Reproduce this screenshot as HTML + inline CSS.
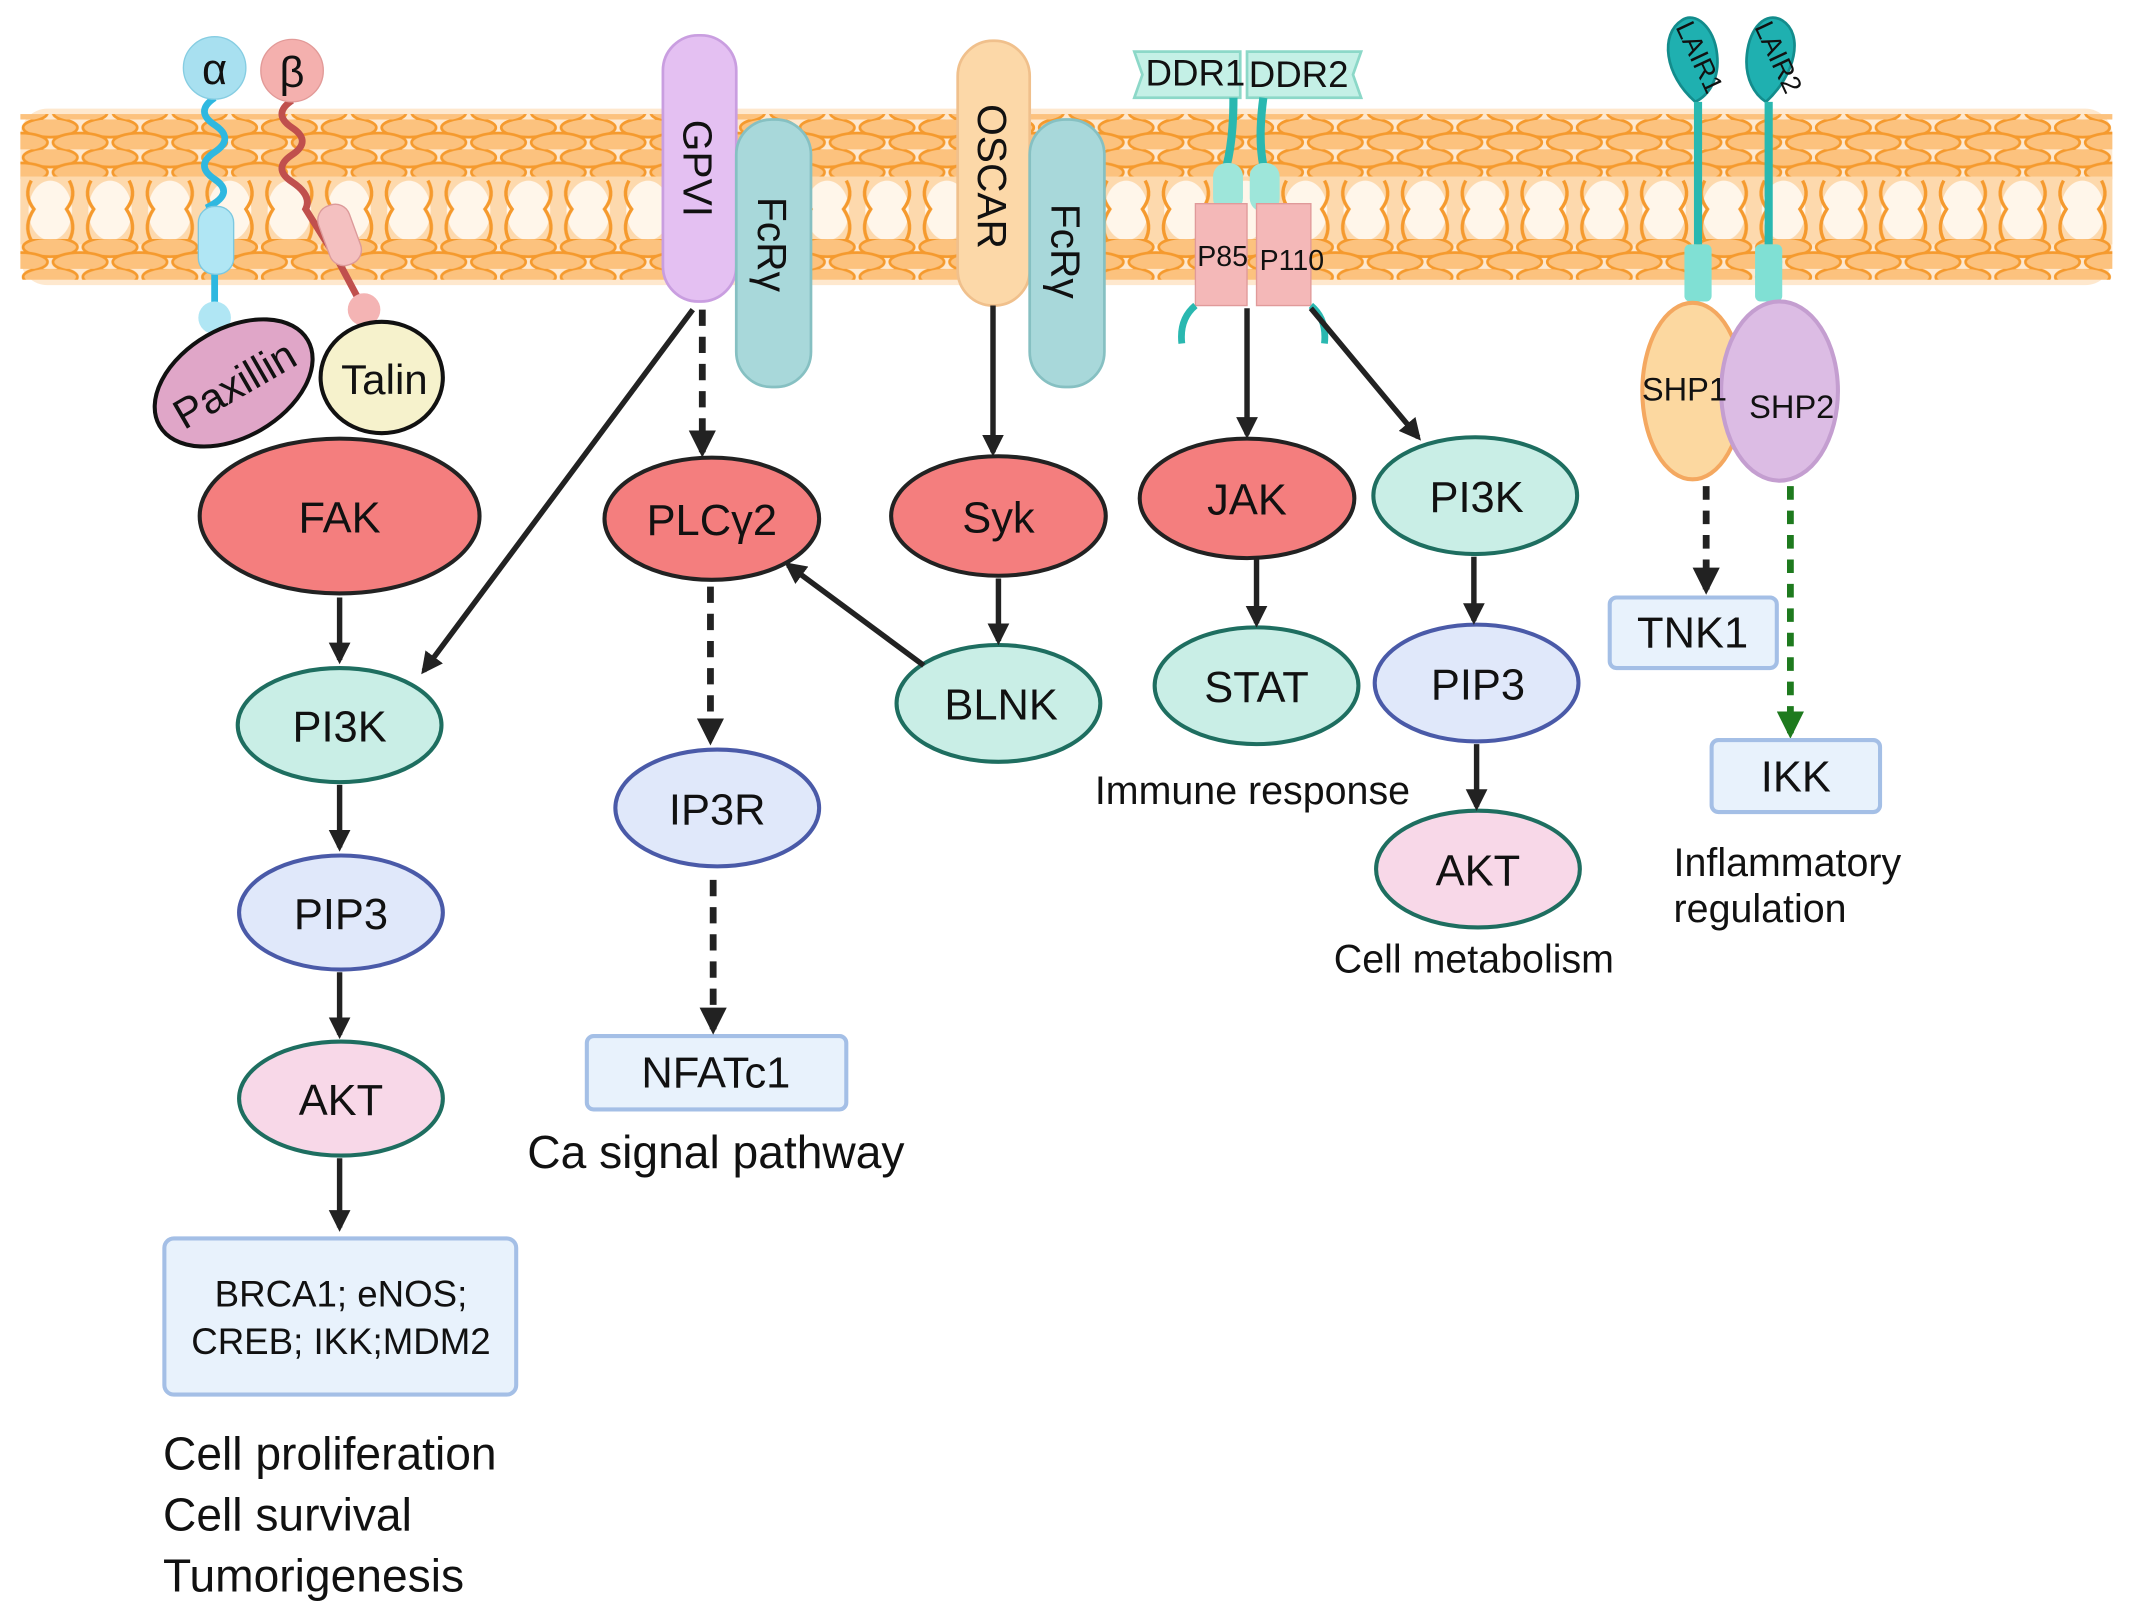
<!DOCTYPE html>
<html><head><meta charset="utf-8"><style>
html,body{margin:0;padding:0;background:#fff;}
svg{display:block;}
text{font-family:"Liberation Sans",sans-serif;fill:#111;}
</style></head><body>
<svg width="2130" height="1620" viewBox="0 0 1568 1193" preserveAspectRatio="none" xmlns="http://www.w3.org/2000/svg">
<defs>
<pattern id="heads" x="15" y="0" width="44" height="22" patternUnits="userSpaceOnUse">
<ellipse cx="22" cy="6" rx="20" ry="7" fill="#fcc27e" stroke="#f59a2e" stroke-width="2"/>
<ellipse cx="0" cy="17" rx="20" ry="7" fill="#fcc27e" stroke="#f59a2e" stroke-width="2"/>
<ellipse cx="44" cy="17" rx="20" ry="7" fill="#fcc27e" stroke="#f59a2e" stroke-width="2"/>
</pattern>
<pattern id="tails" x="15" y="130" width="44" height="50" patternUnits="userSpaceOnUse">
<rect width="44" height="50" fill="#fdd9ad"/>
<ellipse cx="22" cy="25" rx="16" ry="22" fill="#fff6ea"/>
<path d="M8 3 Q2 14 10 24 Q2 36 8 47 M36 3 Q42 14 34 24 Q42 36 36 47" fill="none" stroke="#f59a2e" stroke-width="2.5"/>
</pattern>
<marker id="ah" viewBox="0 0 10 10" refX="8" refY="5" markerWidth="4" markerHeight="4" orient="auto"><path d="M0 0 L10 5 L0 10z" fill="#222"/></marker>
<marker id="ahg" viewBox="0 0 10 10" refX="8" refY="5" markerWidth="4" markerHeight="4" orient="auto"><path d="M0 0 L10 5 L0 10z" fill="#1e7a1e"/></marker>
</defs>

<!-- membrane -->
<rect x="15" y="80" width="1540" height="130" rx="20" fill="#fdd9ad" opacity="0.6"/>
<rect x="15" y="84" width="1540" height="50" fill="url(#heads)"/>
<rect x="15" y="130" width="1540" height="50" fill="url(#tails)"/>
<rect x="15" y="176" width="1540" height="30" fill="url(#heads)"/>

<!-- integrins -->
<path d="M158 72 q-15 10 0 20 q15 10 0 20 q-15 10 0 20 q15 10 -4 20 l4 10 L158 230" fill="none" stroke="#2fb8e0" stroke-width="5"/>
<path d="M215 74 q-15 10 0 20 q15 10 0 20 q-15 10 0 20 q15 10 10 20 l25 40 L268 228" fill="none" stroke="#c0504d" stroke-width="5"/>
<rect x="146" y="152" width="26" height="50" rx="12" fill="#b0e6f4" stroke="#7cc8e0"/>
<rect x="238" y="150" width="24" height="46" rx="11" fill="#f4c0c0" stroke="#dc9a9a" transform="rotate(-20 250 173)"/>
<circle cx="158" cy="234" r="12" fill="#b0e6f4"/>
<circle cx="268" cy="228" r="12" fill="#f4b4b4"/>
<circle cx="158" cy="50" r="23" fill="#a8e0f0" stroke="#86cde2"/>
<circle cx="215" cy="52" r="23" fill="#f4b0ae" stroke="#e29a98"/>
<text x="158" y="62" font-size="32" text-anchor="middle">α</text>
<text x="215" y="64" font-size="32" text-anchor="middle">β</text>

<ellipse cx="172" cy="282" rx="63" ry="40" fill="#e0a6c8" stroke="#111" stroke-width="3" transform="rotate(-30 172 282)"/>
<text x="172" y="294" font-size="31" text-anchor="middle" transform="rotate(-30 172 282)">Paxillin</text>
<ellipse cx="281" cy="278" rx="45" ry="41" fill="#f6f2cc" stroke="#111" stroke-width="3"/>
<text x="283" y="290" font-size="31" text-anchor="middle">Talin</text>

<!-- left column -->
<ellipse cx="250" cy="380" rx="103" ry="57" fill="#f47e7e" stroke="#222" stroke-width="3"/>
<text x="250" y="392" font-size="32" text-anchor="middle">FAK</text>
<ellipse cx="250" cy="534" rx="75" ry="42" fill="#c9eee6" stroke="#1e6e60" stroke-width="3"/>
<text x="250" y="546" font-size="32" text-anchor="middle">PI3K</text>
<ellipse cx="251" cy="672" rx="75" ry="42" fill="#e0e8fa" stroke="#4a5aa8" stroke-width="3"/>
<text x="251" y="684" font-size="32" text-anchor="middle">PIP3</text>
<ellipse cx="251" cy="809" rx="75" ry="42" fill="#f8d8e8" stroke="#1e6e60" stroke-width="3"/>
<text x="251" y="821" font-size="32" text-anchor="middle">AKT</text>
<rect x="121" y="912" width="259" height="115" rx="7" fill="#e8f2fc" stroke="#a4bfe6" stroke-width="3"/>
<text x="251" y="962" font-size="27" text-anchor="middle">BRCA1; eNOS;</text>
<text x="251" y="997" font-size="27" text-anchor="middle">CREB; IKK;MDM2</text>
<text x="120" y="1082" font-size="34">Cell proliferation</text>
<text x="120" y="1127" font-size="34">Cell survival</text>
<text x="120" y="1172" font-size="34">Tumorigenesis</text>
<g stroke="#222" stroke-width="4" marker-end="url(#ah)">
<line x1="250" y1="440" x2="250" y2="486"/>
<line x1="250" y1="578" x2="250" y2="624"/>
<line x1="250" y1="716" x2="250" y2="762"/>
<line x1="250" y1="853" x2="250" y2="904"/>
<line x1="510" y1="228" x2="312" y2="494"/>
</g>

<!-- GPVI -->
<rect x="488" y="26" width="54" height="196" rx="26" fill="#e4c0f2" stroke="#c99ee0" stroke-width="2"/>
<text transform="translate(503 124) rotate(90)" font-size="30" text-anchor="middle">GPVI</text>
<rect x="542" y="88" width="55" height="197" rx="26" fill="#a8d8da" stroke="#86c0c2" stroke-width="2"/>
<text transform="translate(558 180) rotate(90)" font-size="30" text-anchor="middle">FcRγ</text>
<ellipse cx="524" cy="382" rx="79" ry="45" fill="#f47e7e" stroke="#222" stroke-width="3"/>
<text x="524" y="394" font-size="32" text-anchor="middle">PLCγ2</text>
<ellipse cx="528" cy="595" rx="75" ry="43" fill="#e0e8fa" stroke="#4a5aa8" stroke-width="3"/>
<text x="528" y="607" font-size="32" text-anchor="middle">IP3R</text>
<rect x="432" y="763" width="191" height="54" rx="5" fill="#e8f2fc" stroke="#a4bfe6" stroke-width="3"/>
<text x="527" y="801" font-size="32" text-anchor="middle">NFATc1</text>
<text x="527" y="860" font-size="34" text-anchor="middle">Ca signal pathway</text>
<g stroke="#222" stroke-width="5" stroke-dasharray="12 8" marker-end="url(#ah)">
<line x1="517" y1="228" x2="517" y2="333"/>
<line x1="523" y1="432" x2="523" y2="545"/>
<line x1="525" y1="648" x2="525" y2="758"/>
</g>

<!-- OSCAR -->
<rect x="705" y="30" width="53" height="195" rx="26" fill="#fcd8a8" stroke="#f0c08c" stroke-width="2"/>
<text transform="translate(720 130) rotate(90)" font-size="30" text-anchor="middle">OSCAR</text>
<rect x="758" y="88" width="55" height="197" rx="26" fill="#a8d8da" stroke="#86c0c2" stroke-width="2"/>
<text transform="translate(774 185) rotate(90)" font-size="30" text-anchor="middle">FcRγ</text>
<ellipse cx="735" cy="380" rx="79" ry="44" fill="#f47e7e" stroke="#222" stroke-width="3"/>
<text x="735" y="392" font-size="32" text-anchor="middle">Syk</text>
<ellipse cx="735" cy="518" rx="75" ry="43" fill="#c9eee6" stroke="#1e6e60" stroke-width="3"/>
<text x="737" y="530" font-size="32" text-anchor="middle">BLNK</text>
<g stroke="#222" stroke-width="4" marker-end="url(#ah)">
<line x1="731" y1="225" x2="731" y2="333"/>
<line x1="735" y1="426" x2="735" y2="472"/>
<line x1="680" y1="490" x2="580" y2="416"/>
</g>

<!-- DDR -->
<path d="M835 38 h78 v34 h-78 l6 -17z" fill="#c4f0e6" stroke="#8cd8c8" stroke-width="2"/>
<path d="M918 38 h84 l-6 17 l6 17 h-84z" fill="#c4f0e6" stroke="#8cd8c8" stroke-width="2"/>
<text x="880" y="63" font-size="27" text-anchor="middle">DDR1</text>
<text x="956" y="64" font-size="27" text-anchor="middle">DDR2</text>
<path d="M908 72 q0 30 -5 50 M930 72 q-4 30 0 50" fill="none" stroke="#2ab8b0" stroke-width="6"/>
<rect x="893" y="120" width="22" height="36" rx="10" fill="#9ee6da"/>
<rect x="920" y="120" width="22" height="36" rx="10" fill="#9ee6da"/>
<path d="M880 150 h38 v75 h-38z" fill="#f4b8b8" stroke="#e09a9a"/>
<path d="M925 150 h40 v75 h-40z" fill="#f4b8b8" stroke="#e09a9a"/>
<path d="M880 225 q-12 10 -10 28 M965 225 q12 10 10 28" fill="none" stroke="#2ab8b0" stroke-width="5"/>
<text x="900" y="196" font-size="21" text-anchor="middle">P85</text>
<text x="951" y="199" font-size="21" text-anchor="middle">P110</text>
<ellipse cx="918" cy="367" rx="79" ry="44" fill="#f47e7e" stroke="#222" stroke-width="3"/>
<text x="918" y="379" font-size="32" text-anchor="middle">JAK</text>
<ellipse cx="925" cy="505" rx="75" ry="43" fill="#c9eee6" stroke="#1e6e60" stroke-width="3"/>
<text x="925" y="517" font-size="32" text-anchor="middle">STAT</text>
<text x="922" y="592" font-size="29" text-anchor="middle">Immune response</text>
<ellipse cx="1086" cy="365" rx="75" ry="43" fill="#c9eee6" stroke="#1e6e60" stroke-width="3"/>
<text x="1087" y="377" font-size="32" text-anchor="middle">PI3K</text>
<ellipse cx="1087" cy="503" rx="75" ry="43" fill="#e0e8fa" stroke="#4a5aa8" stroke-width="3"/>
<text x="1088" y="515" font-size="32" text-anchor="middle">PIP3</text>
<ellipse cx="1088" cy="640" rx="75" ry="43" fill="#f8d8e8" stroke="#1e6e60" stroke-width="3"/>
<text x="1088" y="652" font-size="32" text-anchor="middle">AKT</text>
<text x="1085" y="716" font-size="29" text-anchor="middle">Cell metabolism</text>
<g stroke="#222" stroke-width="4" marker-end="url(#ah)">
<line x1="918" y1="227" x2="918" y2="320"/>
<line x1="965" y1="227" x2="1044" y2="322"/>
<line x1="925" y1="412" x2="925" y2="459"/>
<line x1="1085" y1="410" x2="1085" y2="457"/>
<line x1="1087" y1="548" x2="1087" y2="594"/>
</g>

<!-- LAIR -->
<path d="M1248 75 C1225 55 1222 25 1238 15 C1248 8 1262 20 1264 40 C1266 58 1258 70 1248 75z" fill="#1fb0b0" stroke="#138c8c" stroke-width="2"/>
<path d="M1300 75 C1322 55 1328 25 1312 15 C1300 8 1288 20 1286 40 C1284 58 1292 70 1300 75z" fill="#1fb0b0" stroke="#138c8c" stroke-width="2"/>
<text transform="translate(1245 45) rotate(65)" font-size="20" text-anchor="middle">LAIR1</text>
<text transform="translate(1303 45) rotate(65)" font-size="20" text-anchor="middle">LAIR2</text>
<line x1="1250" y1="75" x2="1250" y2="180" stroke="#2ab8b0" stroke-width="6"/>
<line x1="1302" y1="75" x2="1302" y2="180" stroke="#2ab8b0" stroke-width="6"/>
<rect x="1240" y="180" width="20" height="42" rx="4" fill="#80e0d4"/>
<rect x="1292" y="180" width="20" height="42" rx="4" fill="#80e0d4"/>
<ellipse cx="1246" cy="288" rx="37" ry="65" fill="#fcd8a0" stroke="#f4a860" stroke-width="3"/>
<ellipse cx="1310" cy="288" rx="43" ry="66" fill="#dcbce4" stroke="#c49ed0" stroke-width="3"/>
<text x="1240" y="295" font-size="24" text-anchor="middle">SHP1</text>
<text x="1319" y="308" font-size="24" text-anchor="middle">SHP2</text>
<line x1="1256" y1="358" x2="1256" y2="434" stroke="#222" stroke-width="5" stroke-dasharray="10 8" marker-end="url(#ah)"/>
<line x1="1318" y1="358" x2="1318" y2="540" stroke="#1e7a1e" stroke-width="5" stroke-dasharray="10 8" marker-end="url(#ahg)"/>
<rect x="1185" y="440" width="123" height="52" rx="5" fill="#e8f2fc" stroke="#a4bfe6" stroke-width="3"/>
<text x="1246" y="477" font-size="32" text-anchor="middle">TNK1</text>
<rect x="1260" y="545" width="124" height="53" rx="5" fill="#e8f2fc" stroke="#a4bfe6" stroke-width="3"/>
<text x="1322" y="583" font-size="32" text-anchor="middle">IKK</text>
<text x="1232" y="645" font-size="29">Inflammatory</text>
<text x="1232" y="679" font-size="29">regulation</text>
</svg>
</body></html>
